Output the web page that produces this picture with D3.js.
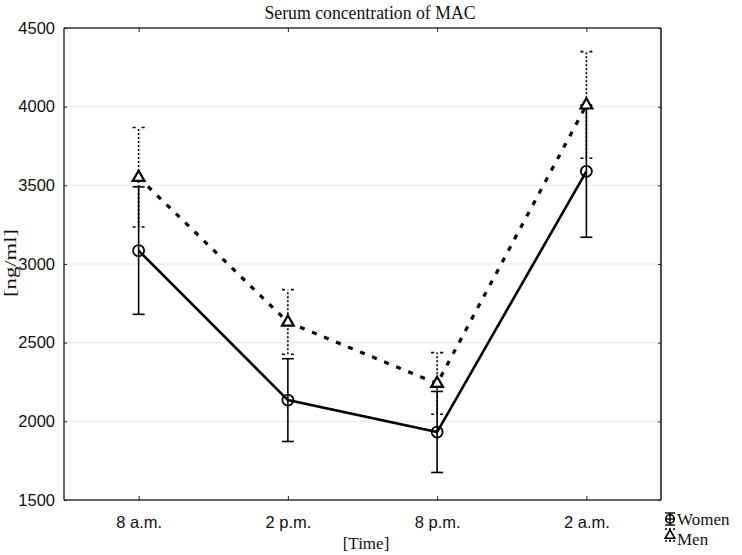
<!DOCTYPE html>
<html><head><meta charset="utf-8">
<script src="https://cdn.jsdelivr.net/npm/d3@7"></script>
<style>body{margin:0;background:#fff}svg{display:block}</style>
</head><body>
<svg id="chart" width="742" height="555"></svg>
<script>
const categories = ["8 a.m.", "2 p.m.", "8 p.m.", "2 a.m."];
const womenMean = [3085, 2135, 1932, 3589];
const womenLow  = [2680, 1872, 1675, 3170];
const womenHigh = [3490, 2398, 2190, 4010];
const menMean = [3550, 2630, 2240, 4010];
const menLow  = [3235, 2426, 2045, 3672];
const menHigh = [3868, 2837, 2437, 4350];
const yTicks = [1500, 2000, 2500, 3000, 3500, 4000, 4500];
const seriesNames = ["Women", "Men"];

const svg = d3.select("#chart");
const L = 64, R = 661, T = 28, B = 500;
const x = d3.scalePoint().domain(categories).range([L, R]).padding(0.5);
const y = d3.scaleLinear().domain([1500, 4500]).range([B, T]);

// grid
svg.append("g").selectAll("line").data(yTicks.slice(1, -1)).join("line")
  .attr("x1", L).attr("x2", R).attr("y1", d => y(d)).attr("y2", d => y(d))
  .attr("stroke", "#e6e6e6").attr("stroke-width", 1);

// frame
svg.append("line").attr("x1", L).attr("x2", R).attr("y1", T).attr("y2", T).attr("stroke", "#666").attr("stroke-width", 2);
svg.append("line").attr("x1", L).attr("x2", L).attr("y1", T).attr("y2", B).attr("stroke", "#666").attr("stroke-width", 2);
svg.append("line").attr("x1", R).attr("x2", R).attr("y1", T).attr("y2", B).attr("stroke", "#222").attr("stroke-width", 1.6);
svg.append("line").attr("x1", L).attr("x2", R).attr("y1", B).attr("y2", B).attr("stroke", "#333").attr("stroke-width", 1.6);

const sans = "Liberation Sans, Arial, sans-serif";
// axes
const yAxis = d3.axisLeft(y).tickValues(yTicks).tickSize(-3).tickPadding(9).tickFormat(d3.format("d"));
const gy = svg.append("g").attr("transform", `translate(${L},0)`).call(yAxis);
gy.select(".domain").remove();
gy.selectAll(".tick line").attr("stroke", "#222");
gy.selectAll("text").attr("font-family", sans).attr("font-size", 16.5).attr("fill", "#111");

const gyr = svg.append("g").attr("transform", `translate(${R},0)`).call(d3.axisRight(y).tickValues(yTicks).tickSize(-3).tickFormat(""));
gyr.select(".domain").remove();
gyr.selectAll(".tick line").attr("stroke", "#222");

const xAxis = d3.axisBottom(x).tickSize(-4).tickPadding(16);
const gx = svg.append("g").attr("transform", `translate(0,${B})`).call(xAxis);
gx.select(".domain").remove();
gx.selectAll(".tick line").attr("stroke", "#222");
gx.selectAll("text").attr("font-family", sans).attr("font-size", 16.5).attr("fill", "#111");

const gxt = svg.append("g").attr("transform", `translate(0,${T})`).call(d3.axisTop(x).tickSize(-4).tickFormat(""));
gxt.select(".domain").remove();
gxt.selectAll(".tick line").attr("stroke", "#222");

// titles
const serif = "Liberation Serif, Times New Roman, serif";
svg.append("text").attr("x", 370).attr("y", 19).attr("text-anchor", "middle")
  .attr("font-family", serif).attr("font-size", 19).attr("fill", "#111")
  .attr("textLength", 211).attr("lengthAdjust", "spacingAndGlyphs")
  .text("Serum concentration of MAC");
svg.append("text").attr("x", 366).attr("y", 549).attr("text-anchor", "middle")
  .attr("font-family", serif).attr("font-size", 17).attr("fill", "#111").text("[Time]");
svg.append("text").attr("transform", "translate(16,263) rotate(-90)").attr("text-anchor", "middle")
  .attr("font-family", serif).attr("font-size", 16).attr("fill", "#111")
  .attr("textLength", 68).attr("lengthAdjust", "spacingAndGlyphs").text("[ng/ml]");

// error bars
const capW = 6;
function errBars(low, high, dashed) {
  const g = svg.append("g").attr("stroke", "#000").attr("fill", "none");
  g.selectAll(".v").data(categories).join("line")
    .attr("x1", d => x(d)).attr("x2", d => x(d))
    .attr("y1", (d, i) => y(low[i])).attr("y2", (d, i) => y(high[i]))
    .attr("stroke-width", 1.6)
    .attr("stroke-dasharray", dashed ? "2,2" : null);
  [low, high].forEach(arr => {
    g.selectAll(null).data(categories).join("line")
      .attr("x1", d => x(d) - capW).attr("x2", d => x(d) + capW)
      .attr("y1", (d, i) => y(arr[i])).attr("y2", (d, i) => y(arr[i]))
      .attr("stroke-width", 1.6)
      .attr("stroke-dasharray", dashed ? "3,6,3" : null);
  });
}
errBars(menLow, menHigh, true);
errBars(womenLow, womenHigh, false);

// lines
const line = d3.line().x((d, i) => x(categories[i])).y(d => y(d));
svg.append("path").datum(menMean).attr("d", line).attr("fill", "none")
  .attr("stroke", "#000").attr("stroke-width", 3.2).attr("stroke-dasharray", "5,8");
svg.append("path").datum(womenMean).attr("d", line).attr("fill", "none")
  .attr("stroke", "#000").attr("stroke-width", 2.6);

// markers
svg.append("g").selectAll("circle").data(womenMean).join("circle")
  .attr("cx", (d, i) => x(categories[i])).attr("cy", d => y(d)).attr("r", 5.5)
  .attr("fill", "none").attr("stroke", "#000").attr("stroke-width", 1.8);
const tri = d3.symbol().type(d3.symbolTriangle).size(60);
svg.append("g").selectAll("path").data(menMean).join("path")
  .attr("transform", (d, i) => `translate(${x(categories[i])},${y(d)})`).attr("d", tri)
  .attr("fill", "#fff").attr("stroke", "#000").attr("stroke-width", 2.2);

// legend
const lg = svg.append("g");
const lx = 670;
const items = [
  {name: seriesNames[0], cy: 519, ty: 525, dashed: false},
  {name: seriesNames[1], cy: 535, ty: 545, dashed: true}
];
items.forEach(it => {
  lg.append("line").attr("x1", lx).attr("x2", lx).attr("y1", it.cy - 6).attr("y2", it.cy + 6)
    .attr("stroke", "#000").attr("stroke-width", 1.4).attr("stroke-dasharray", it.dashed ? "2,1.5" : null);
  [it.cy - 6, it.cy + 6].forEach(yy => lg.append("line").attr("x1", lx - 5).attr("x2", lx + 5)
    .attr("y1", yy).attr("y2", yy).attr("stroke", "#000").attr("stroke-width", 1.4)
    .attr("stroke-dasharray", it.dashed ? "2,2" : null));
  if (!it.dashed) {
    lg.append("circle").attr("cx", lx).attr("cy", it.cy).attr("r", 4.2).attr("fill", "none").attr("stroke", "#000").attr("stroke-width", 1.6);
    lg.append("line").attr("x1", lx - 5).attr("x2", lx + 5).attr("y1", it.cy).attr("y2", it.cy).attr("stroke", "#000").attr("stroke-width", 1.4);
  } else {
    lg.append("path").attr("transform", `translate(${lx},${it.cy + 0.5})`).attr("d", d3.symbol().type(d3.symbolTriangle).size(40))
      .attr("fill", "#fff").attr("stroke", "#000").attr("stroke-width", 1.6);
  }
  lg.append("text").attr("x", 677).attr("y", it.ty).attr("font-family", serif).attr("font-size", 17)
    .attr("fill", "#111").text(it.name);
});
</script>
</body></html>
